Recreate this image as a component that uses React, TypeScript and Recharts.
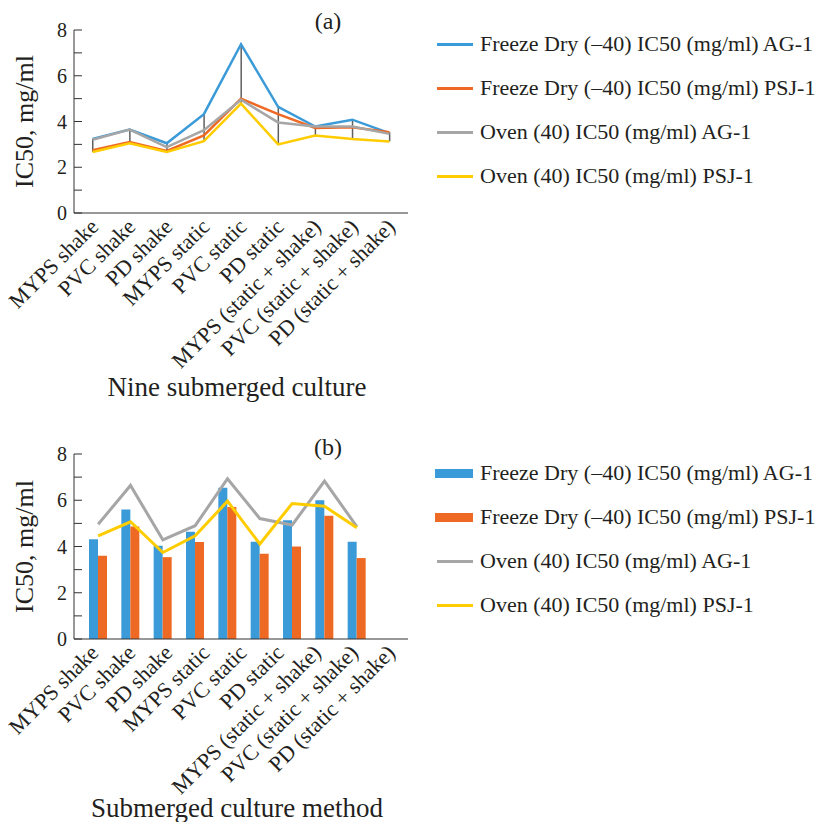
import React from "react"
import { ComposedChart, Bar, Line, XAxis, YAxis, Legend } from "recharts"

const methods = [
    "MYPS shake",
    "PVC shake",
    "PD shake",
    "MYPS static",
    "PVC static",
    "PD static",
    "MYPS (static + shake)",
    "PVC (static + shake)",
    "PD (static + shake)",
]

const yTicks = [0, 1, 2, 3, 4, 5, 6, 7, 8]

// (a) nine submerged culture
const fdAg1Nine = [3.24, 3.65, 3.05, 4.32, 7.38, 4.64, 3.78, 4.08, 3.49]
const fdPsj1Nine = [2.74, 3.1, 2.71, 3.39, 5.0, 4.32, 3.72, 3.75, 3.53]
const ovAg1Nine = [3.2, 3.65, 2.88, 3.62, 4.95, 3.96, 3.78, 3.78, 3.46]
const ovPsj1Nine = [2.67, 3.05, 2.67, 3.14, 4.78, 3.0, 3.39, 3.24, 3.13]

// (b) submerged culture method
const fdAg1Method = [4.31, 5.6, 4.03, 4.64, 6.54, 4.21, 5.14, 6.0, 4.21]
const fdPsj1Method = [3.6, 4.86, 3.54, 4.19, 5.71, 3.69, 4.0, 5.33, 3.5]
const ovAg1Method = [4.96, 6.64, 4.29, 4.9, 6.93, 5.21, 4.93, 6.83, 4.86]
const ovPsj1Method = [4.46, 5.07, 3.74, 4.46, 5.96, 4.11, 5.86, 5.74, 4.81]

const seriesNames = [
    "Freeze Dry (–40) IC50 (mg/ml) AG-1",
    "Freeze Dry (–40) IC50 (mg/ml) PSJ-1",
    "Oven (40) IC50 (mg/ml) AG-1",
    "Oven (40) IC50 (mg/ml) PSJ-1",
]
const colors = ["#3b9ad8", "#ee6a24", "#a6a6a6", "#ffcc00"]
const ink = "#231f20"
const font = "Liberation Serif"

const nineRows = methods.map((method, i) => ({
    method,
    fdAg1: fdAg1Nine[i],
    fdPsj1: fdPsj1Nine[i],
    ovAg1: ovAg1Nine[i],
    ovPsj1: ovPsj1Nine[i],
}))

const methodRows = methods.map((method, i) => ({
    method,
    fdAg1: fdAg1Method[i],
    fdPsj1: fdPsj1Method[i],
    ovAg1: ovAg1Method[i],
    ovPsj1: ovPsj1Method[i],
}))

// excel style high-low line between the four series
const highLow = (d: any) => {
    const vals = [d.fdAg1, d.fdPsj1, d.ovAg1, d.ovPsj1]
    return [Math.min(...vals), Math.max(...vals)]
}

const MethodTick = (props: any) => {
    const { x, y, payload } = props
    return (
        <text
            transform={`translate(${x + 7},${y + 13}) rotate(-45)`}
            textAnchor="end"
            fontSize={22}
            fontFamily={font}
            fill={ink}
        >
            {payload.value}
        </text>
    )
}

const evenOnly = (v: number) => (v % 2 === 0 ? String(v) : "")

const LegendBox = ({ barIcons }: { barIcons: boolean }) => (
    <div style={{ fontFamily: font }}>
        {seriesNames.map((name, i) => {
            const asBar = barIcons && i < 2
            return (
                <div key={name} style={{ display: "flex", alignItems: "center", height: 44 }}>
                    <div
                        style={{
                            width: asBar ? 38 : 36,
                            height: asBar ? 9 : 3,
                            background: colors[i],
                            marginLeft: asBar ? 5 : 7,
                            marginRight: 7,
                        }}
                    />
                    <span style={{ fontSize: 22, color: ink, whiteSpace: "nowrap" }}>{name}</span>
                </div>
            )
        })}
    </div>
)

const yAxisProps = {
    domain: [0, 8] as [number, number],
    ticks: yTicks,
    width: 74,
    tickSize: -8,
    tickMargin: 15,
    tickFormatter: evenOnly,
    tick: { fontSize: 20, fill: ink, fontFamily: font },
    axisLine: { stroke: "#333" },
    tickLine: { stroke: "#333" },
    interval: 0 as const,
    allowDataOverflow: true,
}

const yLabel = { value: "IC50, mg/ml", angle: -90, position: "center" as const, dx: -13, fontSize: 26, fill: ink, fontFamily: font }

const App: React.FC = () => {
    return (
        <div style={{ position: "absolute", left: 0, top: 0, width: 822, height: 822, fontFamily: font, background: "#fff" }}>
            <ComposedChart width={822} height={411} data={nineRows} margin={{ top: 30, right: 414, bottom: 0, left: 0 }}>
                <XAxis
                    dataKey="method"
                    height={198}
                    interval={0}
                    tickLine={false}
                    tickSize={0}
                    tick={<MethodTick />}
                    axisLine={{ stroke: "#333" }}
                    label={{ value: "Nine submerged culture", position: "insideBottom", offset: 15, dx: -4, fontSize: 27, fill: ink, fontFamily: font }}
                />
                <YAxis {...yAxisProps} label={yLabel} />
                <Legend
                    layout="vertical"
                    align="center"
                    verticalAlign="middle"
                    wrapperStyle={{ left: 430, top: 22, width: 392 }}
                    content={() => <LegendBox barIcons={false} />}
                />
                <Bar dataKey={highLow} barSize={1.5} fill="#5f5f5f" legendType="none" isAnimationActive={false} />
                <Line dataKey="fdAg1" name={seriesNames[0]} stroke={colors[0]} strokeWidth={2.5} dot={false} isAnimationActive={false} />
                <Line dataKey="fdPsj1" name={seriesNames[1]} stroke={colors[1]} strokeWidth={2.5} dot={false} isAnimationActive={false} />
                <Line dataKey="ovAg1" name={seriesNames[2]} stroke={colors[2]} strokeWidth={2.5} dot={false} isAnimationActive={false} />
                <Line dataKey="ovPsj1" name={seriesNames[3]} stroke={colors[3]} strokeWidth={2.5} dot={false} isAnimationActive={false} />
                <text x={328} y={29} textAnchor="middle" fontSize={24} fontFamily={font} fill={ink}>
                    (a)
                </text>
            </ComposedChart>
            <ComposedChart width={822} height={411} data={methodRows} barGap={0} margin={{ top: 43, right: 414, bottom: 0, left: 0 }}>
                <XAxis xAxisId="slots" dataKey="method" hide padding={{ left: 8, right: 35 }} />
                <XAxis
                    xAxisId="labels"
                    dataKey="method"
                    height={183}
                    interval={0}
                    tickLine={false}
                    tickSize={0}
                    tick={<MethodTick />}
                    axisLine={{ stroke: "#333" }}
                    label={{ value: "Submerged culture method", position: "insideBottom", offset: 5, dx: -4, fontSize: 27, fill: ink, fontFamily: font }}
                />
                <YAxis {...yAxisProps} label={yLabel} />
                <Legend
                    layout="vertical"
                    align="center"
                    verticalAlign="middle"
                    wrapperStyle={{ left: 430, top: 40, width: 392 }}
                    content={() => <LegendBox barIcons={true} />}
                />
                <Bar xAxisId="slots" dataKey="fdAg1" name={seriesNames[0]} fill={colors[0]} barSize={9} isAnimationActive={false} />
                <Bar xAxisId="slots" dataKey="fdPsj1" name={seriesNames[1]} fill={colors[1]} barSize={9} isAnimationActive={false} />
                <Line xAxisId="slots" dataKey="ovAg1" name={seriesNames[2]} stroke={colors[2]} strokeWidth={3} dot={false} isAnimationActive={false} />
                <Line xAxisId="slots" dataKey="ovPsj1" name={seriesNames[3]} stroke={colors[3]} strokeWidth={3} dot={false} isAnimationActive={false} />
                <text x={328} y={44} textAnchor="middle" fontSize={24} fontFamily={font} fill={ink}>
                    (b)
                </text>
            </ComposedChart>
        </div>
    )
}

export default App
